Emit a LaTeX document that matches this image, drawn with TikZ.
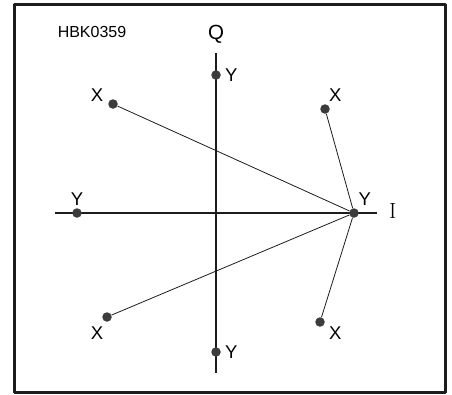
\documentclass[tikz,border=0pt]{standalone}
\usepackage{fontspec}
\setsansfont{Liberation Sans}
\usetikzlibrary{positioning}
\newcommand{\Axis}{2.6pt}
\newcommand{\Spoke}{0.8pt}
\newcommand{\Dot}{9.5pt}
\definecolor{ink}{HTML}{1C1C1C}
\definecolor{dot}{HTML}{3C3C3C}

\begin{document}
\begin{tikzpicture}[x=1pt,y=-1pt, line join=round,
  pt/.style={circle,fill=dot,inner sep=0pt,minimum size=\Dot},
  lbl/.style={font=\sffamily\fontsize{18.5}{18.5}\selectfont,inner sep=1pt},
  spoke/.style={ink,line width=\Spoke}]

  \useasboundingbox (0,0) rectangle (452,394);

  % ---- frame ---------------------------------------------------------------
  \draw[ink,line width=2.7pt] (14.5,4.5) rectangle (445.5,392.5);
  \node[font=\sffamily\fontsize{16}{16}\selectfont] (hbk) at (92,31.5) {HBK0359};

  % ---- axes ----------------------------------------------------------------
  \coordinate (qtop) at (216,53);
  \coordinate (qbot) at (216,373);
  \coordinate (ileft) at (55,213);
  \coordinate (iright) at (377,213);
  \draw[ink,line width=\Axis] (qtop) -- (qbot);
  \draw[ink,line width=\Axis] (ileft) -- (iright);
  \node[font=\sffamily\fontsize{20.5}{20.5}\selectfont,inner sep=1pt,above=8.5pt of qtop] (qlbl) {Q};
  \node[font=\rmfamily\fontsize{22}{22}\selectfont,inner sep=1pt,right=11pt of iright,yshift=2pt] (ilbl) {I};

  % ---- Y points on the axes -----------------------------------------------
  \node[pt] (ytop) at (216,75) {};
  \node[pt] (yleft) at (77,213) {};
  \node[pt] (yright) at (354,213) {};
  \node[pt] (ybot) at (216,352) {};
  \node[lbl,right=3pt of ytop] {Y};
  \node[lbl,above=1.5pt of yleft] {Y};
  \node[lbl,above right=3pt and 0pt of yright] {Y};
  \node[lbl,right=3pt of ybot] {Y};

  % ---- X points, each tied to the Y on the I axis --------------------------
  \node[pt] (xul) at (113,104) {};
  \node[pt] (xur) at (325,109) {};
  \node[pt] (xll) at (107,317) {};
  \node[pt] (xlr) at (320,322) {};
  \foreach \p in {xul,xur,xll,xlr} { \draw[spoke] (\p) -- (yright); }
  \node[lbl,above left=-2pt and 5pt of xul] {X};
  \node[lbl,above right=3pt and -0.5pt of xur] {X};
  \node[lbl,below left=5pt and -1pt of xll] {X};
  \node[lbl,below right=0pt and 4.5pt of xlr] {X};

\end{tikzpicture}
\end{document}
